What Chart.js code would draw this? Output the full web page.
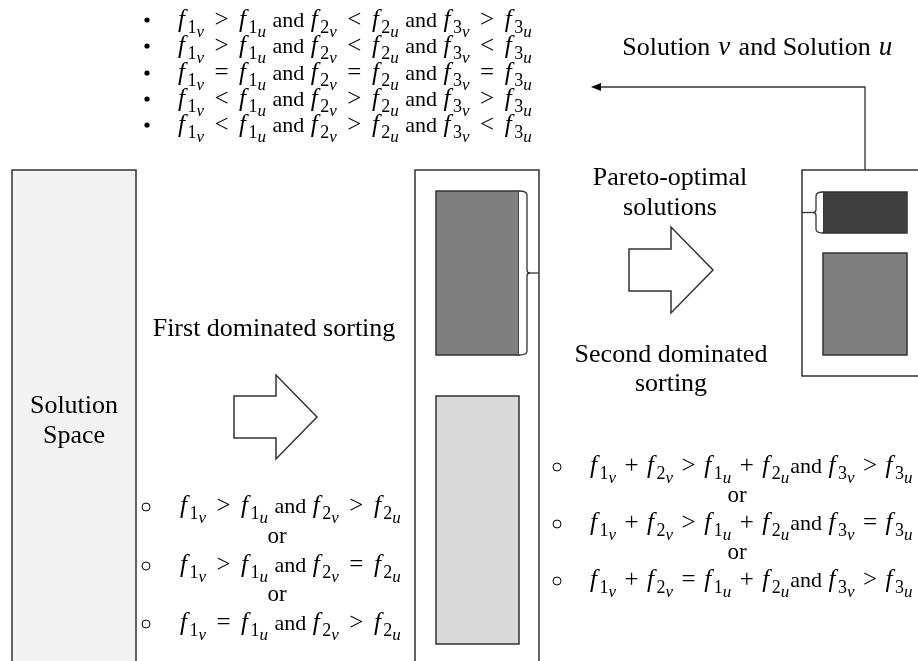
<!DOCTYPE html>
<html>
<head>
<meta charset="utf-8">
<script src="https://cdn.jsdelivr.net/npm/chart.js@4.4.0/dist/chart.umd.min.js"></script>
<style>
  html, body { margin: 0; padding: 0; background: #fff; }
  #wrap { width: 918px; height: 661px; }
</style>
</head>
<body>
<div id="wrap"><canvas id="myChart" width="918" height="661"></canvas></div>
<script>
// texts of the diagram
var topConditions = [
    'f1v > f1u and f2v < f2u and f3v > f3u',
    'f1v > f1u and f2v < f2u and f3v < f3u',
    'f1v = f1u and f2v = f2u and f3v = f3u',
    'f1v < f1u and f2v > f2u and f3v > f3u',
    'f1v < f1u and f2v > f2u and f3v < f3u'
];
var firstConditions = [
    'f1v > f1u and f2v > f2u',
    'f1v > f1u and f2v = f2u',
    'f1v = f1u and f2v > f2u'
];
var secondConditions = [
    'f1v + f2v > f1u + f2uand f3v > f3u',
    'f1v + f2v > f1u + f2uand f3v = f3u',
    'f1v + f2v = f1u + f2uand f3v > f3u'
];
var spaceLabel = ['Solution', 'Space'];
var firstLabel = 'First dominated sorting';
var paretoLabel = ['Pareto-optimal', 'solutions'];
var secondLabel = ['Second dominated', 'sorting'];
var backLabel = 'Solution v and Solution u';
var orLabel = 'or';

var SERIF = '"Liberation Serif", "DejaVu Serif", serif';
var LINE = '#333333';

// draws f1v style terms with nested subscripts
function drawFormula(ctx, str, x, y, pad) {
    var parts = str.split(/(f[123][vu])/);
    var cx = x;
    ctx.textAlign = 'left';
    ctx.textBaseline = 'alphabetic';
    ctx.fillStyle = '#000';
    for (var i = 0; i < parts.length; i++) {
        var p = parts[i];
        if (!p) continue;
        if (/^f[123][vu]$/.test(p)) {
            ctx.font = 'italic 25px ' + SERIF;
            ctx.fillText('f', cx + 1, y);
            cx += ctx.measureText('f').width + 3.5;
            ctx.font = '18px ' + SERIF;
            ctx.fillText(p[1], cx, y + 6);
            cx += ctx.measureText(p[1]).width;
            ctx.font = 'italic 17px ' + SERIF;
            ctx.fillText(p[2], cx, y + 10);
            cx += ctx.measureText(p[2]).width + 1;
        } else {
            var bits = p.split(/([<>=+])/);
            for (var b = 0; b < bits.length; b++) {
                var s = bits[b];
                if (!s) continue;
                var op = /^[<>=+]$/.test(s);
                ctx.font = (op ? 25 : 22) + 'px ' + SERIF;
                if (op) cx += pad;
                ctx.fillText(s, cx, y);
                cx += ctx.measureText(s).width;
                if (op) cx += pad;
            }
        }
    }
}

function drawText(ctx, txt, x, y, size) {
    ctx.font = size + 'px ' + SERIF;
    ctx.textAlign = 'center';
    ctx.textBaseline = 'alphabetic';
    ctx.fillStyle = '#000';
    ctx.fillText(txt, x, y);
}

// centred text where single-letter words (v, u) are set in italic
function drawRich(ctx, txt, x, y, size) {
    var words = txt.split(' ');
    var segs = [];
    var total = 0;
    for (var i = 0; i < words.length; i++) {
        var w = words[i] + (i < words.length - 1 ? ' ' : '');
        var it = words[i].length === 1;
        ctx.font = (it ? 'italic ' + (size + 1) : size) + 'px ' + SERIF;
        var wd = ctx.measureText(w).width + (it ? 3 : 0);
        segs.push({ t: w, it: it, w: wd });
        total += wd;
    }
    var cx = x - total / 2;
    ctx.textAlign = 'left';
    ctx.textBaseline = 'alphabetic';
    ctx.fillStyle = '#000';
    for (var j = 0; j < segs.length; j++) {
        ctx.font = (segs[j].it ? 'italic ' + (size + 1) : size) + 'px ' + SERIF;
        ctx.fillText(segs[j].t, cx + (segs[j].it ? 1.5 : 0), y);
        cx += segs[j].w;
    }
}

var diagramPlugin = {
    id: 'diagram',
    afterDraw: function(chart) {
        var ctx = chart.ctx;
        var sx = chart.scales.x, sy = chart.scales.y;
        var X = function(v) { return sx.getPixelForValue(v); };
        var Y = function(v) { return sy.getPixelForValue(v); };

        function box(x1, y1, x2, y2, fill) {
            ctx.beginPath();
            ctx.rect(X(x1), Y(y1), X(x2) - X(x1), Y(y2) - Y(y1));
            if (fill) { ctx.fillStyle = fill; ctx.fill(); }
            ctx.lineWidth = 1.5;
            ctx.strokeStyle = LINE;
            ctx.stroke();
        }
        function blockArrow(x0, xn, xt, yt, half, tail) {
            ctx.beginPath();
            ctx.moveTo(X(x0), Y(yt - tail));
            ctx.lineTo(X(xn), Y(yt - tail));
            ctx.lineTo(X(xn), Y(yt - half));
            ctx.lineTo(X(xt), Y(yt));
            ctx.lineTo(X(xn), Y(yt + half));
            ctx.lineTo(X(xn), Y(yt + tail));
            ctx.lineTo(X(x0), Y(yt + tail));
            ctx.closePath();
            ctx.fillStyle = '#fff';
            ctx.fill();
            ctx.lineWidth = 1.5;
            ctx.strokeStyle = LINE;
            ctx.stroke();
        }
        // dir 1 = brace points right, -1 = points left
        function brace(xb, y1, y2, dir, w, xend) {
            var ym = (y1 + y2) / 2;
            var xo = xb + dir * w;
            ctx.beginPath();
            ctx.moveTo(X(xb), Y(y1));
            ctx.quadraticCurveTo(X(xo), Y(y1), X(xo), Y(y1 + 4));
            ctx.lineTo(X(xo), Y(ym - 3));
            ctx.quadraticCurveTo(X(xo), Y(ym), X(xo + dir * 3), Y(ym));
            ctx.quadraticCurveTo(X(xo), Y(ym), X(xo), Y(ym + 3));
            ctx.lineTo(X(xo), Y(y2 - 4));
            ctx.quadraticCurveTo(X(xo), Y(y2), X(xb), Y(y2));
            ctx.fillStyle = '#fff';
            ctx.fill();
            ctx.lineWidth = 1.3;
            ctx.strokeStyle = LINE;
            ctx.stroke();
            ctx.beginPath();
            ctx.moveTo(X(xo + dir * 3), Y(ym));
            ctx.lineTo(X(xend), Y(ym));
            ctx.stroke();
        }

        ctx.save();
        // solution space column
        box(12, 170, 136, 668, '#f2f2f2');
        drawText(ctx, spaceLabel[0], 74, 413, 26);
        drawText(ctx, spaceLabel[1], 74, 443, 26);

        // middle column
        box(415, 170, 539, 668, '#fff');
        box(436, 191, 519, 355, '#7f7f7f');
        box(436, 396, 519, 644, '#d9d9d9');
        brace(519, 191, 355, 1, 8, 539);

        // right column
        box(802, 170, 930, 376, '#fff');
        box(823, 192, 907, 233, '#404040');
        box(823, 253, 907, 355, '#7f7f7f');
        brace(823, 192, 233, -1, 7, 802);

        // feedback line with arrow head
        ctx.beginPath();
        ctx.moveTo(X(865), Y(170));
        ctx.lineTo(X(865), Y(87));
        ctx.lineTo(X(600), Y(87));
        ctx.lineWidth = 1.3;
        ctx.strokeStyle = LINE;
        ctx.stroke();
        ctx.beginPath();
        ctx.moveTo(X(591), Y(87));
        ctx.lineTo(X(601), Y(83));
        ctx.lineTo(X(601), Y(91));
        ctx.closePath();
        ctx.fillStyle = '#000';
        ctx.fill();
        drawRich(ctx, backLabel, 758, 55, 26);

        // block arrows
        blockArrow(234, 276, 317, 417, 42, 21);
        blockArrow(629, 671, 713, 270, 43, 21);

        drawText(ctx, firstLabel, 274, 336, 26);
        drawText(ctx, paretoLabel[0], 670, 185, 26);
        drawText(ctx, paretoLabel[1], 670, 215, 26);
        drawText(ctx, secondLabel[0], 671, 362, 26);
        drawText(ctx, secondLabel[1], 671, 391, 26);

        // top bullet list
        var topY = [27, 53, 80, 106, 132];
        for (var i = 0; i < topConditions.length; i++) {
            ctx.beginPath();
            ctx.arc(X(147), Y(topY[i] - 7), 2.6, 0, Math.PI * 2);
            ctx.fillStyle = '#000';
            ctx.fill();
            drawFormula(ctx, topConditions[i], X(177), Y(topY[i]), 4);
        }

        // first sorting conditions
        var firstY = [513, 572, 630];
        for (var j = 0; j < firstConditions.length; j++) {
            ctx.beginPath();
            ctx.arc(X(146), Y(firstY[j] - 6), 4, 0, Math.PI * 2);
            ctx.lineWidth = 1;
            ctx.strokeStyle = '#000';
            ctx.stroke();
            drawFormula(ctx, firstConditions[j], X(179), Y(firstY[j]), 4);
            if (j < firstConditions.length - 1) drawText(ctx, orLabel, 277, (firstY[j] + firstY[j + 1]) / 2, 23);
        }

        // second sorting conditions
        var secondY = [473, 530, 587];
        for (var k = 0; k < secondConditions.length; k++) {
            ctx.beginPath();
            ctx.arc(X(557), Y(secondY[k] - 6), 4, 0, Math.PI * 2);
            ctx.lineWidth = 1;
            ctx.strokeStyle = '#000';
            ctx.stroke();
            drawFormula(ctx, secondConditions[k], X(589), Y(secondY[k]), 2);
            if (k < secondConditions.length - 1) drawText(ctx, orLabel, 737, (secondY[k] + secondY[k + 1]) / 2, 23);
        }
        ctx.restore();
    }
};

var ctx = document.getElementById('myChart').getContext('2d');
var myChart = new Chart(ctx, {
    type: 'scatter',
    data: { datasets: [{ data: [], pointRadius: 0 }] },
    options: {
        responsive: false,
        animation: false,
        layout: { padding: 0 },
        plugins: { legend: { display: false }, tooltip: { enabled: false } },
        scales: {
            x: { type: 'linear', min: 0, max: 918, display: false },
            y: { type: 'linear', min: 0, max: 661, reverse: true, display: false }
        }
    },
    plugins: [diagramPlugin]
});
</script>
</body>
</html>
